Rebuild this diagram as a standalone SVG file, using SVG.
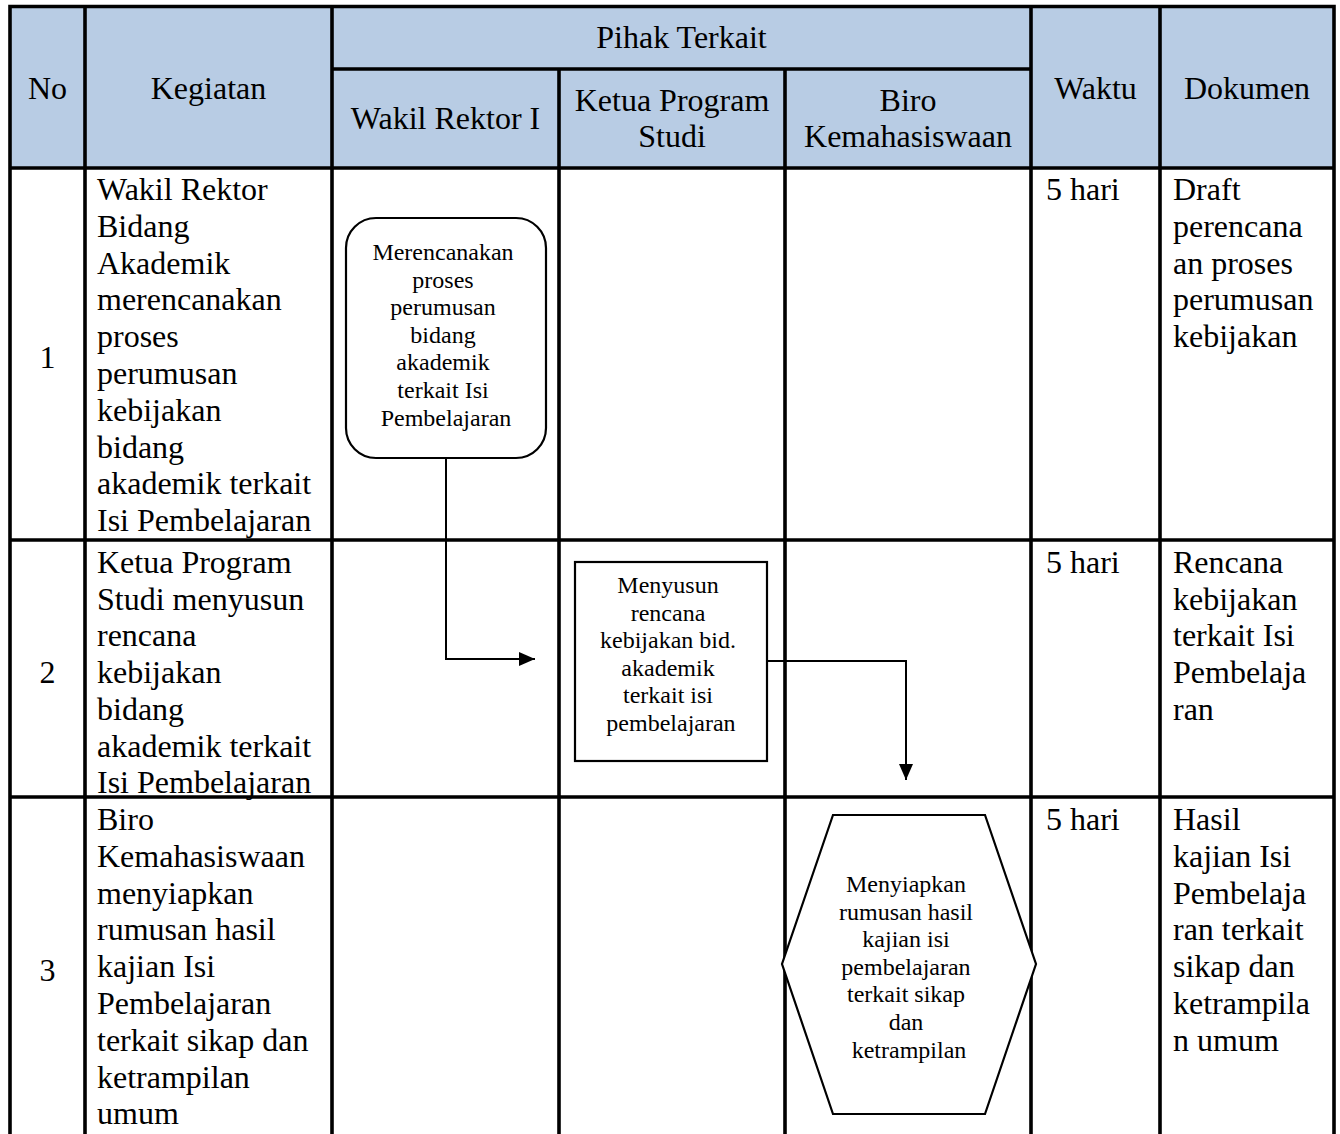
<svg xmlns="http://www.w3.org/2000/svg" width="1340" height="1134" viewBox="0 0 1340 1134">
<defs>
<style>
.grid{stroke:#000;stroke-width:3.6;fill:none}
.t{font-family:"Liberation Serif","Times New Roman",serif;font-size:32px;fill:#000}
.c{text-anchor:middle}
.s{font-family:"Liberation Serif","Times New Roman",serif;font-size:24px;fill:#000;text-anchor:middle}
.shape{fill:#fff;stroke:#000;stroke-width:2.2}
.conn{fill:none;stroke:#000;stroke-width:2}
</style>
<marker id="arr" markerUnits="userSpaceOnUse" markerWidth="18" markerHeight="14" refX="16" refY="7" orient="auto">
<path d="M0,0 L16,7 L0,14 Z" fill="#000"/>
</marker>
</defs>
<rect x="0" y="0" width="1340" height="1134" fill="#fff"/>
<g id="table">
<rect x="10" y="6.5" width="1324" height="161.5" fill="#b8cce4"/>
<path class="grid" d="M8.2,6.5 H1335.8 M10,6.5 V1134 M1334,6.5 V1134 M85,6.5 V1134 M332,6.5 V1134 M1031,6.5 V1134 M1160,6.5 V1134 M559,69 V1134 M785,69 V1134 M332,69 H1031 M10,168 H1334 M10,540 H1334 M10,797 H1334"/>
<g id="header">
<text class="t c" x="47.5" y="99">No</text>
<text class="t c" x="208.5" y="99">Kegiatan</text>
<text class="t c" x="681.5" y="48">Pihak Terkait</text>
<text class="t c" x="445.5" y="129">Wakil Rektor I</text>
<text class="t c" x="672" y="111">Ketua Program</text>
<text class="t c" x="672" y="147">Studi</text>
<text class="t c" x="908" y="111">Biro</text>
<text class="t c" x="908" y="147">Kemahasiswaan</text>
<text class="t c" x="1095.5" y="99">Waktu</text>
<text class="t c" x="1247" y="99">Dokumen</text>
</g>
<g id="row1">
<text class="t c" x="47.5" y="368">1</text>
<text class="t" x="97">
<tspan x="97" y="200">Wakil Rektor</tspan>
<tspan x="97" y="237">Bidang</tspan>
<tspan x="97" y="274">Akademik</tspan>
<tspan x="97" y="310">merencanakan</tspan>
<tspan x="97" y="347">proses</tspan>
<tspan x="97" y="384">perumusan</tspan>
<tspan x="97" y="421">kebijakan</tspan>
<tspan x="97" y="458">bidang</tspan>
<tspan x="97" y="494">akademik terkait</tspan>
<tspan x="97" y="531">Isi Pembelajaran</tspan>
</text>
<text class="t" x="1046" y="200">5 hari</text>
<text class="t" x="1173">
<tspan x="1173" y="200">Draft</tspan>
<tspan x="1173" y="237">perencana</tspan>
<tspan x="1173" y="274">an proses</tspan>
<tspan x="1173" y="310">perumusan</tspan>
<tspan x="1173" y="347">kebijakan</tspan>
</text>
</g>
<g id="row2">
<text class="t c" x="47.5" y="683">2</text>
<text class="t" x="97">
<tspan x="97" y="573">Ketua Program</tspan>
<tspan x="97" y="610">Studi menyusun</tspan>
<tspan x="97" y="646">rencana</tspan>
<tspan x="97" y="683">kebijakan</tspan>
<tspan x="97" y="720">bidang</tspan>
<tspan x="97" y="757">akademik terkait</tspan>
<tspan x="97" y="793">Isi Pembelajaran</tspan>
</text>
<text class="t" x="1046" y="573">5 hari</text>
<text class="t" x="1173">
<tspan x="1173" y="573">Rencana</tspan>
<tspan x="1173" y="610">kebijakan</tspan>
<tspan x="1173" y="646">terkait Isi</tspan>
<tspan x="1173" y="683">Pembelaja</tspan>
<tspan x="1173" y="720">ran</tspan>
</text>
</g>
<g id="row3">
<text class="t c" x="47.5" y="981">3</text>
<text class="t" x="97">
<tspan x="97" y="830">Biro</tspan>
<tspan x="97" y="867">Kemahasiswaan</tspan>
<tspan x="97" y="904">menyiapkan</tspan>
<tspan x="97" y="940">rumusan hasil</tspan>
<tspan x="97" y="977">kajian Isi</tspan>
<tspan x="97" y="1014">Pembelajaran</tspan>
<tspan x="97" y="1051">terkait sikap dan</tspan>
<tspan x="97" y="1088">ketrampilan</tspan>
<tspan x="97" y="1124">umum</tspan>
</text>
<text class="t" x="1046" y="830">5 hari</text>
<text class="t" x="1173">
<tspan x="1173" y="830">Hasil</tspan>
<tspan x="1173" y="867">kajian Isi</tspan>
<tspan x="1173" y="904">Pembelaja</tspan>
<tspan x="1173" y="940">ran terkait</tspan>
<tspan x="1173" y="977">sikap dan</tspan>
<tspan x="1173" y="1014">ketrampila</tspan>
<tspan x="1173" y="1051">n umum</tspan>
</text>
</g>
</g>
<g id="connectors">
<path class="conn" d="M446,458 V659 H535" marker-end="url(#arr)"/>
<path class="conn" d="M767,661 H906 V780" marker-end="url(#arr)"/>
</g>
<g id="node1">
<rect class="shape" x="346" y="218" width="200" height="240" rx="30" ry="30"/>
<text class="s">
<tspan x="446" y="260">Merencanakan</tspan>
<tspan x="446" y="287.6">proses</tspan>
<tspan x="446" y="315.2">perumusan</tspan>
<tspan x="446" y="342.8">bidang</tspan>
<tspan x="446" y="370.4">akademik</tspan>
<tspan x="446" y="398">terkait Isi</tspan>
<tspan x="446" y="425.6">Pembelajaran</tspan>
</text>
</g>
<g id="node2">
<rect class="shape" x="575" y="562" width="192" height="199"/>
<text class="s">
<tspan x="671" y="593">Menyusun</tspan>
<tspan x="671" y="620.6">rencana</tspan>
<tspan x="671" y="648.2">kebijakan bid.</tspan>
<tspan x="671" y="675.8">akademik</tspan>
<tspan x="671" y="703.4">terkait isi</tspan>
<tspan x="671" y="731">pembelajaran</tspan>
</text>
</g>
<g id="node3">
<polygon class="shape" points="833,815 985,815 1036,964 985,1114 833,1114 782,964"/>
<text class="s">
<tspan x="909" y="892">Menyiapkan</tspan>
<tspan x="909" y="919.6">rumusan hasil</tspan>
<tspan x="909" y="947.2">kajian isi</tspan>
<tspan x="909" y="974.8">pembelajaran</tspan>
<tspan x="909" y="1002.4">terkait sikap</tspan>
<tspan x="909" y="1030">dan</tspan>
<tspan x="909" y="1057.6">ketrampilan</tspan>
</text>
</g>
</svg>
